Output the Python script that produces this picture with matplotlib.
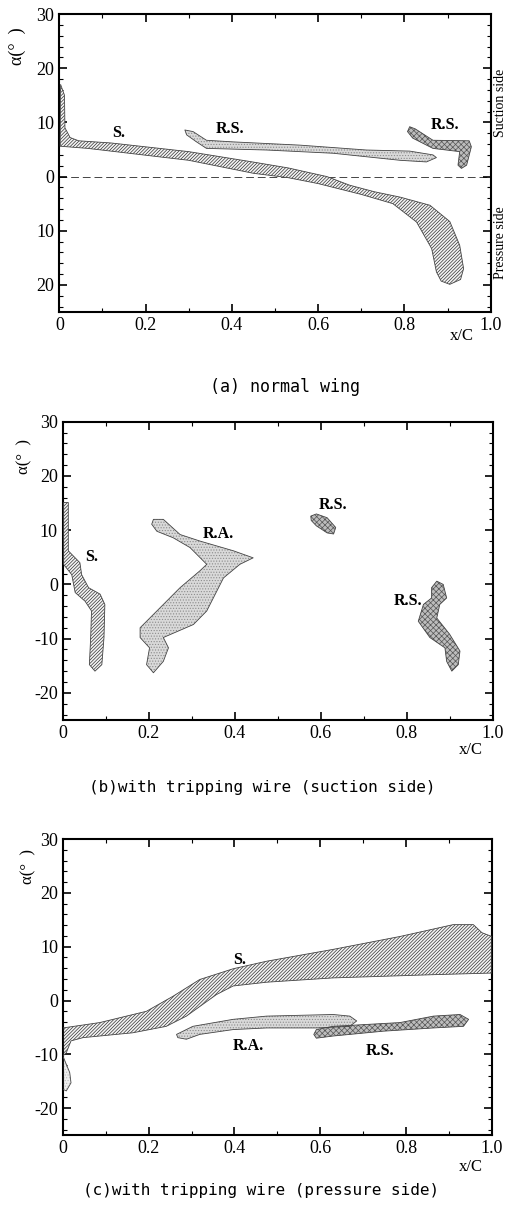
import matplotlib
matplotlib.use('Agg')
import matplotlib.pyplot as plt
from matplotlib.ticker import MultipleLocator

plt.rcParams['font.family'] = ['Liberation Serif', 'DejaVu Serif']
plt.rcParams['hatch.linewidth'] = 0.5

# ---------------- data (x/C, alpha in degrees) ----------------
# (a) normal wing  -- pressure side drawn as negative alpha
a_sep_x = [0.003, 0.012, 0.013, 0.025, 0.045, 0.12, 0.30, 0.44, 0.53, 0.62, 0.673, 0.73, 0.79, 0.859, 0.905,
           0.928, 0.937, 0.93, 0.905, 0.885, 0.874, 0.863, 0.828, 0.773, 0.70, 0.60, 0.53, 0.45, 0.30, 0.066, 0.002]
a_sep_y = [17.0, 15.0, 9.0, 7.2, 6.6, 6.2, 4.6, 2.8, 1.6, 0.0, -1.6, -2.8, -3.8, -5.3, -8.3,
           -12.7, -17.0, -19.0, -19.9, -19.3, -17.6, -13.3, -8.4, -5.0, -3.3, -1.3, -0.2, 0.6, 3.0, 5.2, 5.6]
a_rs1_x = [0.291, 0.31, 0.341, 0.403, 0.558, 0.712, 0.812, 0.866, 0.874, 0.851, 0.79, 0.635, 0.48, 0.341, 0.318, 0.295]
a_rs1_y = [8.6, 8.3, 6.7, 6.4, 5.8, 4.9, 4.7, 4.0, 3.5, 2.7, 3.0, 4.3, 4.9, 5.2, 6.4, 7.7]
a_rs2_x = [0.812, 0.825, 0.866, 0.95, 0.955, 0.944, 0.932, 0.924, 0.928, 0.866, 0.819, 0.807]
a_rs2_y = [9.2, 8.8, 6.7, 6.6, 5.5, 2.1, 1.5, 2.1, 4.6, 5.2, 7.1, 8.3]

# (b) with tripping wire (suction side)
b_sep_x = [0.002, 0.013, 0.013, 0.04, 0.044, 0.06, 0.087, 0.098, 0.096, 0.091, 0.075,
           0.062, 0.065, 0.067, 0.052, 0.029, 0.021, 0.002]
b_sep_y = [15.1, 15.1, 6.2, 4.0, 1.8, -0.6, -1.8, -3.7, -9.8, -14.8, -16.0,
           -14.8, -9.8, -4.9, -3.1, -1.5, 1.8, 3.7]
b_ra_x = [0.211, 0.234, 0.273, 0.319, 0.397, 0.443, 0.412, 0.374, 0.335, 0.304, 0.234, 0.246, 0.234, 0.211,
          0.195, 0.202, 0.18, 0.18, 0.219, 0.273, 0.319, 0.335, 0.296, 0.257, 0.219, 0.207]
b_ra_y = [12.0, 12.0, 9.2, 8.0, 6.2, 4.9, 3.7, 1.2, -4.9, -7.4, -9.8, -11.7, -14.2, -16.3,
          -14.8, -11.7, -9.8, -8.0, -4.9, -0.6, 2.5, 3.7, 6.8, 8.6, 9.8, 11.1]
b_rs1_x = [0.577, 0.59, 0.615, 0.635, 0.63, 0.615, 0.59, 0.578]
b_rs1_y = [12.6, 13.0, 12.3, 10.5, 9.3, 9.5, 10.8, 11.8]
b_rs2_x = [0.87, 0.885, 0.893, 0.877, 0.87, 0.9, 0.924, 0.92, 0.905, 0.893, 0.889, 0.854, 0.827, 0.839, 0.858, 0.858]
b_rs2_y = [0.6, 0.0, -2.5, -3.7, -6.2, -9.2, -12.3, -14.8, -16.0, -14.2, -11.7, -9.8, -6.8, -3.7, -2.5, -0.6]

# (c) with tripping wire (pressure side)
c_sep_x = [0.0, 0.086, 0.195, 0.257, 0.319, 0.397, 0.475, 0.63, 0.786, 0.91, 0.957, 0.977, 1.0,
           1.0, 0.864, 0.63, 0.475, 0.397, 0.358, 0.288, 0.241, 0.163, 0.047, 0.019, 0.008, 0.0]
c_sep_y = [-5.1, -4.1, -2.0, 0.8, 3.9, 5.9, 7.3, 9.5, 11.9, 14.1, 14.1, 12.6, 11.9,
           5.1, 4.8, 4.2, 3.4, 2.7, 1.1, -2.9, -4.8, -6.0, -6.9, -7.5, -9.7, -10.3]
c_tail_x = [0.0, 0.016, 0.019, 0.008, 0.0]
c_tail_y = [-10.3, -13.4, -15.3, -16.8, -16.5]
c_ra_x = [0.265, 0.303, 0.397, 0.475, 0.63, 0.669, 0.685, 0.669, 0.591, 0.475, 0.397, 0.319, 0.288, 0.268]
c_ra_y = [-6.3, -4.8, -3.5, -2.9, -2.6, -2.9, -3.8, -4.8, -5.1, -5.1, -5.4, -6.3, -7.2, -6.9]
c_rs_x = [0.591, 0.63, 0.786, 0.864, 0.926, 0.946, 0.934, 0.864, 0.747, 0.63, 0.591, 0.585]
c_rs_y = [-5.4, -4.8, -4.1, -2.9, -2.6, -3.5, -4.8, -5.1, -5.7, -6.6, -7.0, -6.3]

x_ticks = [0, 0.2, 0.4, 0.6, 0.8, 1.0]
x_ticklabels = ['0', '0.2', '0.4', '0.6', '0.8', '1.0']
y_ticks = [30, 20, 10, 0, -10, -20]
a_yticklabels = ['30', '20', '10', '0', '10', '20']
bc_yticklabels = ['30', '20', '10', '0', '-10', '-20']

captions = ['(a) normal wing',
            '(b)with tripping wire (suction side)',
            '(c)with tripping wire (pressure side)']

STYLES = {
    'sep': dict(facecolor='#f4f4f4', hatchcolor='#333333', hatch='//////////'),
    'light': dict(facecolor='#d9d9d9', hatchcolor='#8c8c8c', hatch='......'),
    'cross': dict(facecolor='#bdbdbd', hatchcolor='#555555', hatch='xxxxxx'),
    'tail': dict(facecolor='#eeeeee', hatchcolor='#bbbbbb', hatch='......'),
}


def region(ax, xs, ys, kind):
    st = STYLES[kind]
    ax.fill(xs, ys, facecolor=st['facecolor'], edgecolor=st['hatchcolor'],
            hatch=st['hatch'], linewidth=0, zorder=2)
    ax.fill(xs, ys, facecolor='none', edgecolor='#444444', linewidth=0.6,
            joinstyle='round', zorder=3)


def setup_axes(ax, yticklabels):
    ax.set_xlim(0, 1.0)
    ax.set_ylim(-25, 30)
    ax.set_xticks(x_ticks)
    ax.set_xticklabels(x_ticklabels)
    ax.set_yticks(y_ticks)
    ax.set_yticklabels(yticklabels)
    ax.xaxis.set_minor_locator(MultipleLocator(0.1))
    ax.yaxis.set_minor_locator(MultipleLocator(2))
    ax.tick_params(which='both', direction='in', top=True, right=True, labelsize=13)
    ax.tick_params(which='major', length=6, width=1.2)
    ax.tick_params(which='minor', length=3, width=0.8)
    for s in ax.spines.values():
        s.set_linewidth(1.5)


fig = plt.figure(figsize=(5.07, 12.12), dpi=100)

lab = dict(fontsize=11.5, fontweight='bold', ha='center', va='center', zorder=5)

# ---- (a)
ax1 = fig.add_axes([0.117, 0.7426, 0.851, 0.2458])
setup_axes(ax1, a_yticklabels)
region(ax1, a_sep_x, a_sep_y, 'sep')
region(ax1, a_rs1_x, a_rs1_y, 'light')
region(ax1, a_rs2_x, a_rs2_y, 'cross')
ax1.axhline(0, color='#444444', lw=0.7, ls=(0, (8, 4)), zorder=1)
ax1.text(0.137, 8.0, 'S.', **lab)
ax1.text(0.395, 8.8, 'R.S.', **lab)
ax1.text(0.893, 9.6, 'R.S.', **lab)
fig.text(0.035, 0.962, 'α(°  )', rotation=90, fontsize=13, ha='center', va='center')
fig.text(0.910, 0.723, 'x/C', fontsize=12, ha='center', va='center')
fig.text(0.987, 0.915, 'Suction side', rotation=90, fontsize=10, ha='center', va='center')
fig.text(0.987, 0.800, 'Pressure side', rotation=90, fontsize=10, ha='center', va='center')
fig.text(0.562, 0.681, captions[0], family='DejaVu Sans Mono', fontsize=12, ha='center', va='center')

# ---- (b)
ax2 = fig.add_axes([0.1237, 0.406, 0.848, 0.246])
setup_axes(ax2, bc_yticklabels)
region(ax2, b_sep_x, b_sep_y, 'sep')
region(ax2, b_ra_x, b_ra_y, 'light')
region(ax2, b_rs1_x, b_rs1_y, 'cross')
region(ax2, b_rs2_x, b_rs2_y, 'cross')
ax2.text(0.067, 5.0, 'S.', **lab)
ax2.text(0.362, 9.3, 'R.A.', **lab)
ax2.text(0.629, 14.6, 'R.S.', **lab)
ax2.text(0.804, -3.0, 'R.S.', **lab)
fig.text(0.048, 0.623, 'α(°  )', rotation=90, fontsize=12, ha='center', va='center')
fig.text(0.928, 0.381, 'x/C', fontsize=12, ha='center', va='center')
fig.text(0.518, 0.350, captions[1], family='DejaVu Sans Mono', fontsize=11.5, ha='center', va='center')

# ---- (c)
ax3 = fig.add_axes([0.124, 0.0635, 0.846, 0.2442])
setup_axes(ax3, bc_yticklabels)
region(ax3, c_sep_x, c_sep_y, 'sep')
region(ax3, c_tail_x, c_tail_y, 'tail')
region(ax3, c_ra_x, c_ra_y, 'light')
region(ax3, c_rs_x, c_rs_y, 'cross')
ax3.text(0.412, 7.5, 'S.', **lab)
ax3.text(0.432, -8.5, 'R.A.', **lab)
ax3.text(0.739, -9.4, 'R.S.', **lab)
fig.text(0.056, 0.285, 'α(°  )', rotation=90, fontsize=12, ha='center', va='center')
fig.text(0.928, 0.037, 'x/C', fontsize=12, ha='center', va='center')
fig.text(0.515, 0.018, captions[2], family='DejaVu Sans Mono', fontsize=11.5, ha='center', va='center')

fig.savefig('out.png', dpi=100)
